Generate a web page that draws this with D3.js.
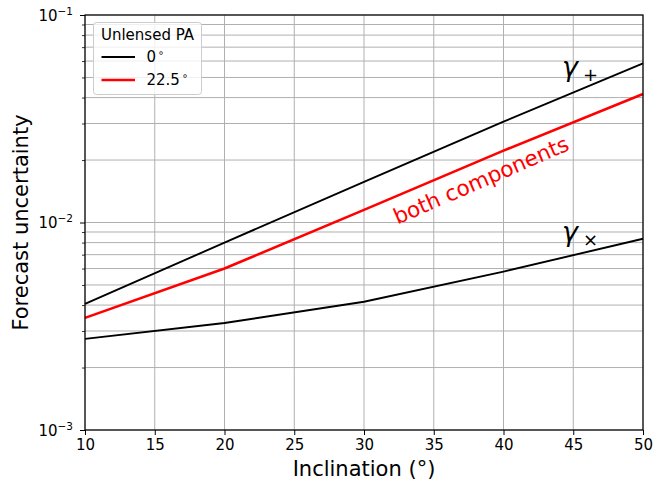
<!DOCTYPE html>
<html>
<head>
<meta charset="utf-8">
<script src="https://cdn.jsdelivr.net/npm/d3@7"></script>
<style>
  html, body { margin: 0; padding: 0; background: #fff; }
  svg { display: block; font-family: "DejaVu Sans", sans-serif; }
</style>
</head>
<body>
<svg id="chart" width="654" height="481"></svg>
<script>
// ---- data ----
const inclination = [10, 20, 30, 40, 50];
const gammaPlusPA0 = [0.00405, 0.0080, 0.0157, 0.0306, 0.0585];
const bothPA225 = [0.00347, 0.0060, 0.0115, 0.0222, 0.0416];
const gammaCrossPA0 = [0.00275, 0.00328, 0.00415, 0.00580, 0.00835];
const xTicks = [10, 15, 20, 25, 30, 35, 40, 45, 50];
const yMajorTicks = [1e-3, 1e-2, 1e-1];
const yMajorExp = ["−3", "−2", "−1"];
const legendTitle = "Unlensed PA";
const legendLabels = ["0", "22.5"];
const legendColors = ["#000000", "#ff0000"];

// ---- layout ----
const L = 85, R = 643, T = 15, B = 430;
const svg = d3.select("#chart");
const x = d3.scaleLinear().domain([10, 50]).range([L, R]);
const y = d3.scaleLog().domain([1e-3, 1e-1]).range([B, T]);

// minor y ticks
const yMinor = [];
for (let e = -3; e < -1; e++) for (let m = 2; m <= 9; m++) yMinor.push(m * Math.pow(10, e));

const gridColor = "#b0b0b0";
const grid = svg.append("g");
xTicks.forEach(t => grid.append("line").attr("x1", x(t)).attr("x2", x(t)).attr("y1", T).attr("y2", B)
  .attr("stroke", gridColor).attr("stroke-width", 1));
yMinor.concat(yMajorTicks).forEach(t => grid.append("line").attr("x1", L).attr("x2", R).attr("y1", y(t)).attr("y2", y(t))
  .attr("stroke", gridColor).attr("stroke-width", 1));

// lines
const line = d3.line().x(d => x(d[0])).y(d => y(d[1]));
const series = [
  {vals: gammaPlusPA0, color: "#000", w: 1.9},
  {vals: gammaCrossPA0, color: "#000", w: 1.9},
  {vals: bothPA225, color: "#ff0000", w: 2.6}
];
series.forEach(s => {
  svg.append("path").datum(inclination.map((v, i) => [v, s.vals[i]]))
    .attr("d", line).attr("fill", "none").attr("stroke", s.color).attr("stroke-width", s.w);
});

// axes
const xAxis = d3.axisBottom(x).tickValues(xTicks).tickSize(5).tickPadding(4).tickFormat(d3.format("d"));
const gx = svg.append("g").attr("transform", `translate(0,${B})`).call(xAxis);
gx.select(".domain").remove();
gx.selectAll(".tick line").attr("stroke", "#000").attr("stroke-width", 1);
gx.selectAll(".tick text").attr("font-size", 15).attr("fill", "#000")
  .attr("font-family", "DejaVu Sans");

const yAxis = d3.axisLeft(y).tickValues(yMajorTicks).tickSize(5).tickFormat("");
const gy = svg.append("g").attr("transform", `translate(${L},0)`).call(yAxis);
gy.select(".domain").remove();
gy.selectAll(".tick line").attr("stroke", "#000").attr("stroke-width", 1);
const yAxisMinor = d3.axisLeft(y).tickValues(yMinor).tickSize(3).tickFormat("");
const gym = svg.append("g").attr("transform", `translate(${L},0)`).call(yAxisMinor);
gym.select(".domain").remove();
gym.selectAll(".tick line").attr("stroke", "#000").attr("stroke-width", 0.8);

// y tick labels 10^k
yMajorTicks.forEach((t, i) => {
  const tx = svg.append("text").attr("x", 73).attr("y", y(t) + 5.5)
    .attr("text-anchor", "end").attr("font-size", 15).attr("fill", "#000");
  tx.append("tspan").text("10");
  tx.append("tspan").attr("font-size", 10.5).attr("dy", -6).text(yMajorExp[i]);
});

// frame
svg.append("rect").attr("x", L).attr("y", T).attr("width", R - L).attr("height", B - T)
  .attr("fill", "none").attr("stroke", "#000").attr("stroke-width", 1.2);

// axis labels
svg.append("text").attr("x", (L + R) / 2).attr("y", 476).attr("text-anchor", "middle")
  .attr("font-size", 21).attr("fill", "#000").text("Inclination (°)");
svg.append("text").attr("transform", `translate(28,${(T + B) / 2}) rotate(-90)`).attr("text-anchor", "middle")
  .attr("font-size", 21).attr("fill", "#000").text("Forecast uncertainty");

// annotations
function gammaLabel(px, py, sub) {
  const t = svg.append("text").attr("x", px).attr("y", py).attr("fill", "#000");
  t.append("tspan").attr("font-size", 27).attr("font-style", "italic").text("γ");
  t.append("tspan").attr("font-size", 18).attr("dx", 5).attr("dy", 5).text(sub);
}
gammaLabel(x(44.2), 76, "+");
gammaLabel(x(44.2), 241, "×");

svg.append("text").attr("transform", `translate(${x(38.6)},${187}) rotate(-23.5)`)
  .attr("text-anchor", "middle").attr("font-size", 21.5).attr("fill", "#ff0000").text("both components");

// legend
const lg = svg.append("g");
lg.append("rect").attr("x", 93.5).attr("y", 22.5).attr("width", 108).attr("height", 72).attr("rx", 3)
  .attr("fill", "#fff").attr("fill-opacity", 0.8).attr("stroke", "#cccccc").attr("stroke-width", 1);
lg.append("text").attr("x", 147.5).attr("y", 40).attr("text-anchor", "middle").attr("font-size", 15)
  .attr("fill", "#000").text(legendTitle);
legendLabels.forEach((lab, i) => {
  const ly = 57 + i * 23;
  lg.append("line").attr("x1", 101.5).attr("x2", 135).attr("y1", ly).attr("y2", ly)
    .attr("stroke", legendColors[i]).attr("stroke-width", i === 1 ? 2.6 : 1.9);
  const t = lg.append("text").attr("x", 146.5).attr("y", ly + 5).attr("font-size", 15).attr("fill", "#000");
  t.append("tspan").text(lab);
  t.append("tspan").attr("font-size", 10).attr("dx", 2).attr("dy", -6).text("∘");
});
</script>
</body>
</html>
